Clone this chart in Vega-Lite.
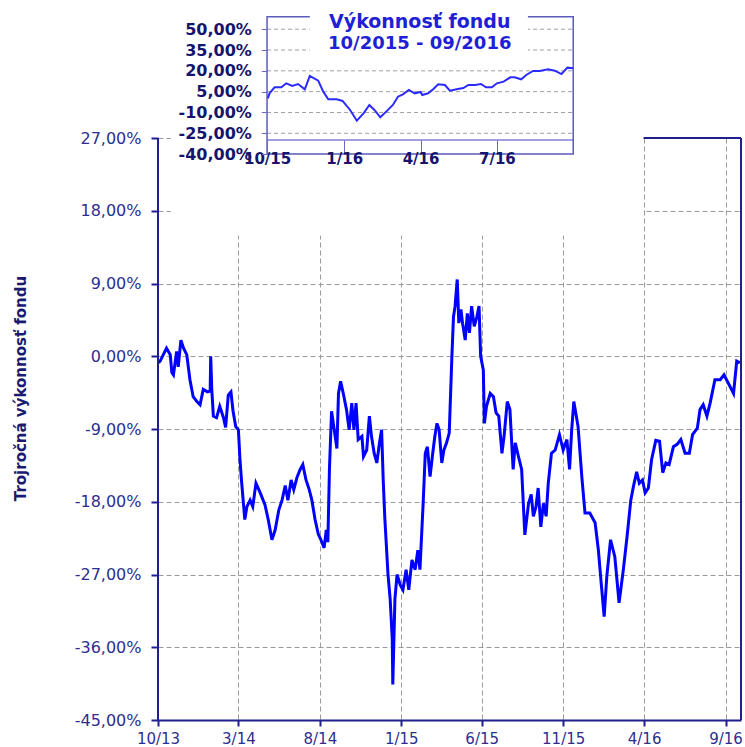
{
  "$schema": "https://vega.github.io/schema/vega-lite/v6.json",
  "width": 583,
  "height": 710,
  "autosize": {"type": "none"},
  "padding": {"left": 158, "top": 10, "right": 4, "bottom": 27},
  "background": "white",
  "config": {"view": {"stroke": null}, "axis": {"labelFont": "DejaVu Sans", "titleFont": "DejaVu Sans"}},
  "datasets": {
    "main": [
      {"d":"2013-10-02","v":-0.8},{"d":"2013-10-05","v":-0.6},{"d":"2013-10-11","v":0.2},{"d":"2013-10-17","v":1.0},{"d":"2013-10-24","v":0.2},{"d":"2013-10-27","v":-2.0},{"d":"2013-10-30","v":-2.3},{"d":"2013-11-05","v":0.6},{"d":"2013-11-08","v":-1.3},{"d":"2013-11-13","v":2.0},{"d":"2013-11-18","v":1.0},{"d":"2013-11-24","v":0.2},{"d":"2013-11-30","v":-2.9},{"d":"2013-12-06","v":-5.0},{"d":"2013-12-13","v":-5.6},{"d":"2013-12-19","v":-6.0},{"d":"2013-12-25","v":-4.1},
      {"d":"2014-01-02","v":-4.4},{"d":"2014-01-07","v":-4.3},{"d":"2014-01-08","v":0.0},{"d":"2014-01-10","v":-4.1},{"d":"2014-01-13","v":-7.4},{"d":"2014-01-19","v":-7.6},{"d":"2014-01-25","v":-6.2},{"d":"2014-02-01","v":-7.6},{"d":"2014-02-05","v":-8.8},{"d":"2014-02-10","v":-4.8},{"d":"2014-02-15","v":-4.4},{"d":"2014-02-19","v":-6.8},{"d":"2014-02-24","v":-8.7},{"d":"2014-03-01","v":-9.1},{"d":"2014-03-04","v":-12.8},{"d":"2014-03-07","v":-15.5},{"d":"2014-03-13","v":-20.2},{"d":"2014-03-17","v":-18.6},{"d":"2014-03-23","v":-17.8},{"d":"2014-03-28","v":-18.6},{"d":"2014-04-03","v":-15.7},{"d":"2014-04-11","v":-16.9},{"d":"2014-04-20","v":-18.4},{"d":"2014-04-26","v":-20.2},{"d":"2014-05-03","v":-22.7},{"d":"2014-05-09","v":-21.5},{"d":"2014-05-16","v":-19.0},{"d":"2014-05-22","v":-17.8},{"d":"2014-05-28","v":-16.0},{"d":"2014-06-02","v":-17.8},{"d":"2014-06-08","v":-15.3},{"d":"2014-06-13","v":-16.5},{"d":"2014-06-19","v":-15.0},{"d":"2014-06-25","v":-14.0},{"d":"2014-06-30","v":-13.4},{"d":"2014-07-06","v":-15.3},{"d":"2014-07-12","v":-16.5},{"d":"2014-07-17","v":-17.8},{"d":"2014-07-23","v":-20.2},{"d":"2014-07-29","v":-22.0},{"d":"2014-08-03","v":-22.7},{"d":"2014-08-09","v":-23.7},{"d":"2014-08-13","v":-21.5},{"d":"2014-08-16","v":-23.0},{"d":"2014-08-19","v":-14.0},{"d":"2014-08-23","v":-6.8},{"d":"2014-08-28","v":-9.1},{"d":"2014-09-02","v":-11.4},{"d":"2014-09-05","v":-4.6},{"d":"2014-09-09","v":-3.1},{"d":"2014-09-14","v":-4.6},{"d":"2014-09-20","v":-6.6},{"d":"2014-09-25","v":-9.1},{"d":"2014-09-30","v":-5.8},{"d":"2014-10-04","v":-9.1},{"d":"2014-10-08","v":-5.8},{"d":"2014-10-12","v":-10.3},{"d":"2014-10-19","v":-9.9},{"d":"2014-10-22","v":-12.4},{"d":"2014-10-28","v":-11.6},{"d":"2014-11-02","v":-7.4},{"d":"2014-11-06","v":-9.9},{"d":"2014-11-11","v":-12.0},{"d":"2014-11-16","v":-13.2},{"d":"2014-11-21","v":-10.7},{"d":"2014-11-25","v":-9.1},{"d":"2014-11-28","v":-15.3},{"d":"2014-12-01","v":-20.0},{"d":"2014-12-07","v":-27.0},{"d":"2014-12-11","v":-30.0},{"d":"2014-12-15","v":-35.0},{"d":"2014-12-16","v":-40.6},{"d":"2014-12-20","v":-30.0},{"d":"2014-12-24","v":-27.0},{"d":"2014-12-30","v":-28.3},
      {"d":"2015-01-04","v":-28.9},{"d":"2015-01-10","v":-26.4},{"d":"2015-01-15","v":-28.9},{"d":"2015-01-21","v":-25.2},{"d":"2015-01-27","v":-26.4},{"d":"2015-02-01","v":-24.0},{"d":"2015-02-05","v":-26.4},{"d":"2015-02-11","v":-18.2},{"d":"2015-02-15","v":-12.0},{"d":"2015-02-19","v":-11.2},{"d":"2015-02-24","v":-14.9},{"d":"2015-03-01","v":-12.0},{"d":"2015-03-05","v":-9.9},{"d":"2015-03-09","v":-8.3},{"d":"2015-03-13","v":-9.1},{"d":"2015-03-18","v":-13.2},{"d":"2015-03-22","v":-11.6},{"d":"2015-03-27","v":-10.7},{"d":"2015-04-01","v":-9.5},{"d":"2015-04-06","v":0.0},{"d":"2015-04-09","v":4.9},{"d":"2015-04-12","v":6.2},{"d":"2015-04-16","v":9.5},{"d":"2015-04-19","v":4.1},{"d":"2015-04-23","v":5.8},{"d":"2015-04-26","v":4.1},{"d":"2015-05-01","v":2.0},{"d":"2015-05-05","v":5.3},{"d":"2015-05-09","v":2.9},{"d":"2015-05-13","v":6.2},{"d":"2015-05-18","v":3.7},{"d":"2015-05-23","v":4.9},{"d":"2015-05-27","v":6.2},{"d":"2015-05-30","v":0.0},{"d":"2015-06-04","v":-1.7},{"d":"2015-06-06","v":-8.3},{"d":"2015-06-10","v":-6.2},{"d":"2015-06-17","v":-4.6},{"d":"2015-06-23","v":-5.0},{"d":"2015-06-28","v":-7.0},{"d":"2015-07-03","v":-7.4},{"d":"2015-07-09","v":-12.0},{"d":"2015-07-13","v":-9.9},{"d":"2015-07-19","v":-5.6},{"d":"2015-07-24","v":-6.6},{"d":"2015-07-30","v":-14.0},{"d":"2015-08-03","v":-10.7},{"d":"2015-08-09","v":-12.4},{"d":"2015-08-15","v":-14.0},{"d":"2015-08-21","v":-22.1},{"d":"2015-08-28","v":-18.2},{"d":"2015-09-02","v":-17.1},{"d":"2015-09-06","v":-19.8},{"d":"2015-09-11","v":-18.6},{"d":"2015-09-15","v":-16.3},{"d":"2015-09-20","v":-21.1},{"d":"2015-09-25","v":-18.2},{"d":"2015-09-30","v":-19.8},{"d":"2015-10-04","v":-15.7},{"d":"2015-10-10","v":-12.0},{"d":"2015-10-17","v":-11.6},{"d":"2015-10-25","v":-9.7},{"d":"2015-11-01","v":-11.6},{"d":"2015-11-08","v":-10.3},{"d":"2015-11-13","v":-14.0},{"d":"2015-11-17","v":-9.1},{"d":"2015-11-21","v":-5.6},{"d":"2015-11-29","v":-8.7},{"d":"2015-12-06","v":-14.9},{"d":"2015-12-12","v":-19.4},{"d":"2015-12-21","v":-19.4},{"d":"2015-12-31","v":-20.6},
      {"d":"2016-01-06","v":-23.9},{"d":"2016-01-12","v":-28.5},{"d":"2016-01-17","v":-32.2},{"d":"2016-01-22","v":-27.2},{"d":"2016-01-29","v":-22.7},{"d":"2016-02-06","v":-24.8},{"d":"2016-02-14","v":-30.5},{"d":"2016-02-22","v":-26.4},{"d":"2016-02-29","v":-22.3},{"d":"2016-03-07","v":-17.8},{"d":"2016-03-12","v":-16.1},{"d":"2016-03-18","v":-14.3},{"d":"2016-03-23","v":-15.7},{"d":"2016-03-29","v":-15.3},{"d":"2016-04-03","v":-16.9},{"d":"2016-04-09","v":-16.3},{"d":"2016-04-15","v":-12.8},{"d":"2016-04-23","v":-10.4},{"d":"2016-04-30","v":-10.5},{"d":"2016-05-06","v":-14.4},{"d":"2016-05-12","v":-13.2},{"d":"2016-05-18","v":-13.4},{"d":"2016-05-26","v":-11.2},{"d":"2016-06-02","v":-10.9},{"d":"2016-06-09","v":-10.3},{"d":"2016-06-17","v":-12.0},{"d":"2016-06-25","v":-12.0},{"d":"2016-07-01","v":-9.7},{"d":"2016-07-10","v":-8.9},{"d":"2016-07-15","v":-6.6},{"d":"2016-07-21","v":-6.0},{"d":"2016-07-28","v":-7.4},{"d":"2016-08-03","v":-5.8},{"d":"2016-08-12","v":-2.9},{"d":"2016-08-22","v":-2.9},{"d":"2016-08-29","v":-2.3},{"d":"2016-09-06","v":-3.3},{"d":"2016-09-16","v":-4.6},{"d":"2016-09-22","v":-0.6},{"d":"2016-09-28","v":-0.8}
    ],
    "inset": [
      {"d":"2015-10-02","v":0.2},{"d":"2015-10-04","v":3.8},{"d":"2015-10-10","v":8.1},{"d":"2015-10-18","v":8.1},{"d":"2015-10-24","v":11.0},{"d":"2015-10-31","v":9.1},{"d":"2015-11-07","v":10.5},{"d":"2015-11-15","v":6.7},{"d":"2015-11-21","v":16.3},{"d":"2015-12-01","v":12.9},{"d":"2015-12-07","v":5.0},{"d":"2015-12-13","v":-0.5},{"d":"2015-12-23","v":-0.5},{"d":"2015-12-30","v":-1.7},{"d":"2016-01-08","v":-8.2},{"d":"2016-01-16","v":-15.9},{"d":"2016-01-24","v":-10.6},{"d":"2016-01-31","v":-4.6},{"d":"2016-02-06","v":-8.2},{"d":"2016-02-13","v":-13.5},{"d":"2016-02-20","v":-9.4},{"d":"2016-02-28","v":-4.6},{"d":"2016-03-05","v":1.4},{"d":"2016-03-11","v":3.1},{"d":"2016-03-18","v":6.2},{"d":"2016-03-25","v":3.8},{"d":"2016-04-01","v":4.8},{"d":"2016-04-03","v":2.6},{"d":"2016-04-10","v":3.8},{"d":"2016-04-16","v":6.7},{"d":"2016-04-22","v":10.3},{"d":"2016-04-30","v":9.8},{"d":"2016-05-06","v":5.7},{"d":"2016-05-14","v":6.7},{"d":"2016-05-22","v":7.6},{"d":"2016-05-28","v":9.8},{"d":"2016-06-05","v":9.8},{"d":"2016-06-12","v":10.5},{"d":"2016-06-18","v":8.1},{"d":"2016-06-25","v":8.1},{"d":"2016-07-01","v":11.0},{"d":"2016-07-09","v":12.2},{"d":"2016-07-17","v":15.3},{"d":"2016-07-22","v":15.3},{"d":"2016-07-30","v":13.9},{"d":"2016-08-05","v":17.0},{"d":"2016-08-13","v":19.9},{"d":"2016-08-21","v":19.9},{"d":"2016-08-31","v":21.1},{"d":"2016-09-08","v":20.1},{"d":"2016-09-16","v":17.7},{"d":"2016-09-23","v":22.3},{"d":"2016-09-30","v":21.8}
    ],
    "igrid": [{"v":50},{"v":35},{"v":20},{"v":5},{"v":-10},{"v":-25}]
  },
  "layer": [
    {
      "data": {"name": "main"},
      "mark": {"type": "line", "color": "#0000ff", "strokeWidth": 3},
      "encoding": {
        "x": {
          "field": "d", "type": "temporal",
          "scale": {"domain": [{"year": 2013, "month": 10, "date": 1}, {"year": 2016, "month": 9, "date": 30}], "nice": false},
          "axis": {
            "orient": "bottom",
            "values": [{"year": 2013, "month": 10, "date": 1}, {"year": 2014, "month": 3, "date": 1}, {"year": 2014, "month": 8, "date": 1}, {"year": 2015, "month": 1, "date": 1}, {"year": 2015, "month": 6, "date": 1}, {"year": 2015, "month": 11, "date": 1}, {"year": 2016, "month": 4, "date": 1}, {"year": 2016, "month": 9, "date": 1}],
            "labelExpr": "timeFormat(datum.value, '%-m/%y')",
            "labelFlush": false, "labelOverlap": false,
            "labelFont": "DejaVu Sans", "labelFontSize": 15, "labelColor": "#2e2e90", "labelPadding": 5,
            "tickSize": 6, "tickColor": "#1f1f8f", "tickWidth": 2,
            "domainColor": "#1f1f8f", "domainWidth": 2,
            "grid": true, "gridColor": "#9a9a9a", "gridDash": [5, 3], "gridWidth": 1,
            "title": null
          }
        },
        "y": {
          "field": "v", "type": "quantitative",
          "scale": {"domain": [-45, 42.84], "nice": false, "zero": false},
          "axis": {
            "orient": "left",
            "values": [-45, -36, -27, -18, -9, 0, 9, 18, 27],
            "labelExpr": "(datum.value < 0 ? '-' : '') + replace(format(abs(datum.value), '.2f'), '.', ',') + '%'",
            "labelOverlap": false,
            "labelFont": "DejaVu Sans", "labelFontSize": 16, "labelColor": "#2e2e90", "labelPadding": 10,
            "tickSize": 7, "tickColor": "#1f1f8f", "tickWidth": 2,
            "domain": false,
            "grid": true, "gridColor": "#9a9a9a", "gridDash": [5, 3], "gridWidth": 1,
            "title": "Trojročná výkonnosť fondu",
            "titleFont": "DejaVu Sans", "titleFontSize": 15, "titleFontWeight": "bold", "titleColor": "#1a1a70",
            "titleAngle": -90, "titleAlign": "center", "titleBaseline": "middle", "titleX": -138, "titleY": 378
          }
        }
      }
    },
    {
      "data": {"values": [{}]},
      "mark": {"type": "rect", "fill": "white", "stroke": null},
      "encoding": {
        "x": {"datum": {"year": 2013, "month": 10, "date": 25}, "type": "temporal", "axis": null, "scale": {"domain": [{"year": 2013, "month": 10, "date": 1}, {"year": 2016, "month": 9, "date": 30}], "nice": false}},
        "x2": {"datum": {"year": 2016, "month": 3, "date": 31}},
        "y": {"datum": 14.9, "type": "quantitative", "axis": null, "scale": {"domain": [-45, 42.84], "nice": false, "zero": false}},
        "y2": {"datum": 42.84}
      }
    },
    {
      "data": {"values": [{}]},
      "mark": {"type": "rect", "fill": "white", "stroke": null},
      "encoding": {
        "x": {"datum": {"year": 2013, "month": 10, "date": 1}, "type": "temporal", "axis": null, "scale": {"domain": [{"year": 2013, "month": 10, "date": 1}, {"year": 2016, "month": 9, "date": 30}], "nice": false}},
        "x2": {"datum": {"year": 2016, "month": 9, "date": 30}},
        "y": {"datum": 27.12, "type": "quantitative", "axis": null, "scale": {"domain": [-45, 42.84], "nice": false, "zero": false}},
        "y2": {"datum": 42.84}
      }
    },
    {
      "data": {"values": [{}]},
      "mark": {"type": "rule", "color": "#1f1f8f", "strokeWidth": 2},
      "encoding": {
        "x": {"datum": {"year": 2013, "month": 10, "date": 1}, "type": "temporal", "axis": null, "scale": {"domain": [{"year": 2013, "month": 10, "date": 1}, {"year": 2016, "month": 9, "date": 30}], "nice": false}},
        "y": {"datum": -45, "type": "quantitative", "axis": null, "scale": {"domain": [-45, 42.84], "nice": false, "zero": false}},
        "y2": {"datum": 27}
      }
    },
    {
      "data": {"values": [{}]},
      "mark": {"type": "rule", "color": "#1f1f8f", "strokeWidth": 2},
      "encoding": {
        "x": {"datum": {"year": 2016, "month": 9, "date": 30}, "type": "temporal", "axis": null, "scale": {"domain": [{"year": 2013, "month": 10, "date": 1}, {"year": 2016, "month": 9, "date": 30}], "nice": false}},
        "y": {"datum": -45, "type": "quantitative", "axis": null, "scale": {"domain": [-45, 42.84], "nice": false, "zero": false}},
        "y2": {"datum": 27}
      }
    },
    {
      "data": {"values": [{}]},
      "mark": {"type": "rule", "color": "#1f1f8f", "strokeWidth": 2},
      "encoding": {
        "x": {"datum": {"year": 2016, "month": 3, "date": 31}, "type": "temporal", "axis": null, "scale": {"domain": [{"year": 2013, "month": 10, "date": 1}, {"year": 2016, "month": 9, "date": 30}], "nice": false}},
        "x2": {"datum": {"year": 2016, "month": 9, "date": 30}},
        "y": {"datum": 27, "type": "quantitative", "axis": null, "scale": {"domain": [-45, 42.84], "nice": false, "zero": false}}
      }
    },
    {
      "data": {"name": "igrid"},
      "mark": {"type": "rule", "color": "#a0a0a0", "strokeDash": [4, 3], "strokeWidth": 1},
      "encoding": {
        "x": {"datum": {"year": 2015, "month": 10, "date": 1}, "type": "temporal", "axis": null, "scale": {"domain": [{"year": 2015, "month": 5, "date": 24}, {"year": 2017, "month": 4, "date": 18}], "nice": false}},
        "x2": {"datum": {"year": 2016, "month": 9, "date": 30}},
        "y": {"field": "v", "type": "quantitative", "axis": null, "scale": {"domain": [-447.7, 63.83], "nice": false, "zero": false}}
      }
    },
    {
      "data": {"values": [{}]},
      "mark": {"type": "rule", "color": "#8080d4", "strokeWidth": 1.5},
      "encoding": {
        "x": {"datum": {"year": 2015, "month": 10, "date": 1}, "type": "temporal", "axis": null, "scale": {"domain": [{"year": 2015, "month": 5, "date": 24}, {"year": 2017, "month": 4, "date": 18}], "nice": false}},
        "x2": {"datum": {"year": 2016, "month": 9, "date": 30}},
        "y": {"datum": -29.8, "type": "quantitative", "axis": null, "scale": {"domain": [-447.7, 63.83], "nice": false, "zero": false}}
      }
    },
    {
      "data": {"values": [{}]},
      "mark": {"type": "rect", "filled": false, "stroke": "#5b5bbd", "strokeWidth": 1.5},
      "encoding": {
        "x": {"datum": {"year": 2015, "month": 10, "date": 1}, "type": "temporal", "axis": null, "scale": {"domain": [{"year": 2015, "month": 5, "date": 24}, {"year": 2017, "month": 4, "date": 18}], "nice": false}},
        "x2": {"datum": {"year": 2016, "month": 9, "date": 30}},
        "y": {"datum": -40, "type": "quantitative", "axis": null, "scale": {"domain": [-447.7, 63.83], "nice": false, "zero": false}},
        "y2": {"datum": 59.0}
      }
    },
    {
      "data": {"values": [{}]},
      "mark": {"type": "rect", "fill": "white", "stroke": null},
      "encoding": {
        "x": {"datum": {"year": 2015, "month": 11, "date": 21}, "type": "temporal", "axis": null, "scale": {"domain": [{"year": 2015, "month": 5, "date": 24}, {"year": 2017, "month": 4, "date": 18}], "nice": false}},
        "x2": {"datum": {"year": 2016, "month": 8, "date": 7}},
        "y": {"datum": 33.6, "type": "quantitative", "axis": null, "scale": {"domain": [-447.7, 63.83], "nice": false, "zero": false}},
        "y2": {"datum": 62.5}
      }
    },
    {
      "data": {"values": [{}]},
      "mark": {"type": "text", "text": "Výkonnosť fondu", "font": "DejaVu Sans", "fontWeight": "bold", "fontSize": 19, "color": "#1f1fd6", "align": "center", "baseline": "alphabetic"},
      "encoding": {
        "x": {"datum": {"year": 2016, "month": 3, "date": 31}, "type": "temporal", "axis": null, "scale": {"domain": [{"year": 2015, "month": 5, "date": 24}, {"year": 2017, "month": 4, "date": 18}], "nice": false}},
        "y": {"datum": 51.2, "type": "quantitative", "axis": null, "scale": {"domain": [-447.7, 63.83], "nice": false, "zero": false}}
      }
    },
    {
      "data": {"values": [{}]},
      "mark": {"type": "text", "text": "10/2015 - 09/2016", "font": "DejaVu Sans", "fontWeight": "bold", "fontSize": 18, "color": "#1f1fd6", "align": "center", "baseline": "alphabetic"},
      "encoding": {
        "x": {"datum": {"year": 2016, "month": 3, "date": 31}, "type": "temporal", "axis": null, "scale": {"domain": [{"year": 2015, "month": 5, "date": 24}, {"year": 2017, "month": 4, "date": 18}], "nice": false}},
        "y": {"datum": 35.7, "type": "quantitative", "axis": null, "scale": {"domain": [-447.7, 63.83], "nice": false, "zero": false}}
      }
    },
    {
      "data": {"name": "inset"},
      "mark": {"type": "line", "color": "#2b2bff", "strokeWidth": 2},
      "encoding": {
        "x": {
          "field": "d", "type": "temporal",
          "scale": {"domain": [{"year": 2015, "month": 5, "date": 24}, {"year": 2017, "month": 4, "date": 18}], "nice": false},
          "axis": {
            "orient": "bottom", "offset": -580,
            "values": [{"year": 2015, "month": 10, "date": 1}, {"year": 2016, "month": 1, "date": 1}, {"year": 2016, "month": 4, "date": 1}, {"year": 2016, "month": 7, "date": 1}],
            "labelExpr": "timeFormat(datum.value, '%-m/%y')",
            "labelFlush": false, "labelOverlap": false,
            "labelFont": "DejaVu Sans", "labelFontWeight": "bold", "labelFontSize": 15, "labelColor": "#15156e", "labelPadding": -2,
            "tickSize": 13, "tickColor": "#6a6ac4", "tickWidth": 1,
            "domain": false, "grid": false, "title": null, "zindex": 1
          }
        },
        "y": {
          "field": "v", "type": "quantitative",
          "scale": {"domain": [-447.7, 63.83], "nice": false, "zero": false},
          "axis": {
            "orient": "left", "offset": -109.3,
            "values": [50, 35, 20, 5, -10, -25, -40],
            "labelExpr": "(datum.value < 0 ? '-' : '') + replace(format(abs(datum.value), '.2f'), '.', ',') + '%'",
            "labelOverlap": false,
            "labelFont": "DejaVu Sans", "labelFontWeight": "bold", "labelFontSize": 16, "labelColor": "#15156e", "labelPadding": 10,
            "tickSize": 6, "tickColor": "#6a6ac4", "tickWidth": 1,
            "domain": false, "grid": false, "title": null, "zindex": 1
          }
        }
      }
    }
  ],
  "resolve": {"scale": {"x": "independent", "y": "independent"}, "axis": {"x": "independent", "y": "independent"}}
}
